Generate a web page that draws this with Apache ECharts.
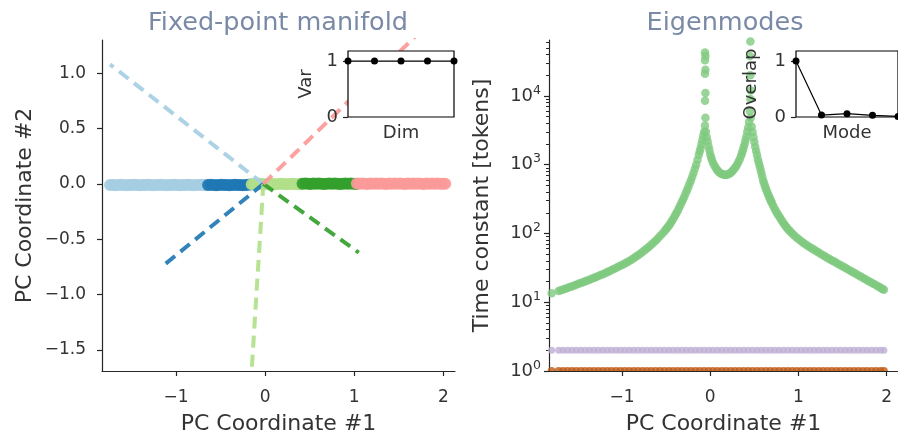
<!DOCTYPE html>
<html><head><meta charset="utf-8">
<script src="https://cdn.jsdelivr.net/npm/echarts@6/dist/echarts.min.js"></script>
<style>html,body{margin:0;padding:0;background:#fff}#c{width:898px;height:440px}</style>
</head><body><div id="c"></div>
<script>
// ---------------- DATA ----------------
const pcTicks = [-1, 0, 1, 2];
const pc2Ticks = [-1.5, -1.0, -0.5, 0.0, 0.5, 1.0];
const tauMajorTicks = [1, 10, 100, 1000, 10000];
const tauMinorTicks = [2,3,4,5,6,7,8,9,20,30,40,50,60,70,80,90,200,300,400,500,600,700,800,900,2000,3000,4000,5000,6000,7000,8000,9000,20000,30000,40000,50000,60000];
const insetTicks = [0, 1];

// Fixed-point manifold clusters (PC1, PC2)
const lightBlueX = [-1.74,-1.71,-1.68,-1.65,-1.62,-1.59,-1.56,-1.53,-1.50,-1.47,-1.44,-1.41,-1.38,-1.35,-1.32,-1.29,-1.26,-1.23,-1.20,-1.17,-1.14,-1.11,-1.08,-1.05,-1.02,-0.99,-0.96,-0.93,-0.90,-0.87,-0.84,-0.81,-0.78,-0.75,-0.72,-0.69,-0.66];
const lightBlueY = [-0.01,-0.01,-0.012,-0.01,-0.008,-0.01,-0.012,-0.01,-0.01,-0.008,-0.01,-0.012,-0.01,-0.01,-0.008,-0.01,-0.012,-0.01,-0.01,-0.008,-0.01,-0.012,-0.01,-0.01,-0.008,-0.01,-0.012,-0.01,-0.01,-0.008,-0.01,-0.012,-0.01,-0.01,-0.008,-0.01,-0.01];
const darkBlueX = [-0.64,-0.61,-0.58,-0.55,-0.52,-0.49,-0.46,-0.43,-0.40,-0.37,-0.34,-0.31,-0.28,-0.25,-0.22,-0.19,-0.16];
const darkBlueY = [-0.01,-0.008,-0.01,-0.012,-0.01,-0.008,-0.01,-0.01,-0.012,-0.01,-0.008,-0.01,-0.01,-0.012,-0.01,-0.008,-0.006];
const lightGreenX = [-0.15,-0.12,-0.09,-0.06,-0.03,0.00,0.03,0.06,0.09,0.12,0.15,0.18,0.21,0.24,0.27,0.30,0.33,0.36,0.39,0.41];
const lightGreenY = [-0.004,-0.002,0.000,0.002,0.000,-0.002,0.000,0.002,0.000,-0.002,0.000,0.002,0.000,-0.002,0.000,0.002,0.000,-0.002,0.000,0.002];
const greenX = [0.42,0.45,0.48,0.51,0.54,0.57,0.60,0.63,0.66,0.69,0.72,0.75,0.78,0.81,0.84,0.87,0.90,0.93,0.96,0.99,1.02];
const greenY = [0.002,0.004,0.002,0.000,0.004,0.002,0.004,0.002,0.000,0.002,0.004,0.002,0.004,0.002,0.000,0.002,0.004,0.002,0.004,0.002,0.000];
const salmonX = [1.03,1.06,1.09,1.12,1.15,1.18,1.21,1.24,1.27,1.30,1.33,1.36,1.39,1.42,1.45,1.48,1.51,1.54,1.57,1.60,1.63,1.66,1.69,1.72,1.75,1.78,1.81,1.84,1.87,1.90,1.93,1.96,1.99,2.02];
const salmonY = [0.004,0.002,0.004,0.002,0.000,0.004,0.002,0.004,0.002,0.004,0.002,0.000,0.004,0.002,0.004,0.002,0.004,0.002,0.000,0.004,0.002,0.004,0.002,0.004,0.002,0.000,0.004,0.002,0.004,0.002,0.004,0.002,0.002,0.002];

// Eigenvector directions drawn from the fixed point
const eigOrigin = [-0.02, 0.0];
const eigEndX = [-1.74, -1.13, -0.16, 1.05, 1.72];
const eigEndY = [1.08, -0.73, -1.80, -0.62, 1.36];

// Eigenmodes: time constants vs PC coordinate #1
const slowModeX = [-1.80,-1.72,-1.695,-1.67,-1.645,-1.62,-1.595,-1.57,-1.545,-1.52,-1.495,-1.47,-1.445,-1.42,-1.395,-1.37,-1.345,-1.32,-1.295,-1.27,-1.245,-1.22,-1.195,-1.17,-1.145,-1.12,-1.095,-1.07,-1.045,-1.02,-0.995,-0.97,-0.945,-0.92,-0.895,-0.87,-0.845,-0.82,-0.795,-0.77,-0.745,-0.72,-0.695,-0.67,-0.645,-0.62,-0.595,-0.57,-0.545,-0.52,-0.505,-0.49,-0.475,-0.46,-0.445,-0.43,-0.415,-0.40,-0.385,-0.37,-0.355,-0.34,-0.325,-0.31,-0.295,-0.28,-0.265,-0.25,-0.235,-0.22,-0.205,-0.19,-0.175,-0.16,-0.145,-0.13,-0.12,-0.11,-0.10,-0.09,-0.08,-0.07,-0.06,
  -0.06,-0.055,-0.06,-0.055,-0.06,-0.055,-0.06,-0.055,
  -0.05,-0.04,-0.03,-0.02,-0.01,0.00,0.01,0.02,0.035,0.05,0.065,0.08,0.095,0.11,0.125,0.14,0.155,0.17,0.185,0.20,0.215,0.23,0.245,0.26,0.275,0.29,0.305,0.32,0.335,0.35,0.36,0.37,0.38,0.39,0.40,0.41,0.42,0.43,0.44,
  0.455,0.45,0.455,0.46,0.455,0.45,0.46,
  0.47,0.48,0.49,0.50,0.51,0.52,0.53,0.54,0.55,0.56,0.57,0.58,0.59,0.60,0.61,0.62,0.63,0.64,0.65,0.66,0.67,0.68,0.69,0.70,0.715,0.73,0.745,0.76,0.775,0.79,0.805,0.82,0.835,0.85,0.865,0.88,0.895,0.91,0.93,0.95,0.975,1.00,1.025,1.05,1.075,1.10,1.125,1.15,1.175,1.20,1.225,1.25,1.275,1.30,1.325,1.35,1.375,1.40,1.425,1.45,1.475,1.50,1.525,1.55,1.575,1.60,1.625,1.65,1.675,1.70,1.725,1.75,1.775,1.80,1.825,1.85,1.875,1.90,1.92,1.94,1.955,1.97];
const slowModeTau = [13.5,14.55,14.9,15.3,15.7,16.1,16.6,17.0,17.5,18.0,18.5,19.0,19.5,20.1,20.7,21.3,21.9,22.6,23.3,24.0,24.8,25.6,26.4,27.4,28.3,29.3,30.3,31.5,32.7,33.9,35.2,36.6,38.2,39.8,41.6,43.6,45.7,48.1,50.7,53.6,56.8,60.3,64.1,68.4,73.1,78.5,84.7,91.6,99.3,108,114,120,127,135,145,155,168,182,197,214,234,257,282,309,343,380,423,468,528,589,668,759,870,1000,1170,1380,1550,1740,2000,2290,2630,3020,3720,
  42700,38000,33000,24000,21000,11000,8500,4800,
  3000,2510,2170,1860,1620,1410,1270,1150,1040,955,890,832,790,759,740,724,715,708,714,724,740,759,794,832,880,933,1010,1100,1210,1350,1480,1620,1800,2000,2270,2570,3000,3470,4170,
  62000,38000,20000,12000,9000,6000,4800,
  3550,2950,2500,2140,1830,1580,1380,1200,1070,955,850,759,670,589,537,490,450,417,386,359,335,313,293,275,251,229,211,195,182,170,158,148,138,130,123,116,111,106,100,94.4,88.1,83.2,78.5,74.1,70.5,67,63.8,61,58.2,55.6,53.1,50.7,48.5,46.5,44.5,42.7,40.9,39.3,37.7,36.1,34.7,33.3,31.9,30.6,29.4,28.2,27.0,25.9,24.9,23.9,22.9,22.0,21.1,20.2,19.4,18.6,17.9,17.1,16.6,16.0,15.6,15.2];
const fastModeX = [-1.80,-1.72,-1.67,-1.62,-1.57,-1.52,-1.47,-1.42,-1.37,-1.32,-1.27,-1.22,-1.17,-1.12,-1.07,-1.02,-0.97,-0.92,-0.87,-0.82,-0.77,-0.72,-0.67,-0.62,-0.57,-0.52,-0.47,-0.42,-0.37,-0.32,-0.27,-0.22,-0.17,-0.12,-0.07,-0.02,0.03,0.08,0.13,0.18,0.23,0.28,0.33,0.38,0.43,0.48,0.53,0.58,0.63,0.68,0.73,0.78,0.83,0.88,0.93,0.98,1.03,1.08,1.13,1.18,1.23,1.28,1.33,1.38,1.43,1.48,1.53,1.58,1.63,1.68,1.73,1.78,1.83,1.88,1.93,1.97];
const midModeTau = [2,2,2,2,2,2,2,2,2,2,2,2,2,2,2,2,2,2,2,2,2,2,2,2,2,2,2,2,2,2,2,2,2,2,2,2,2,2,2,2,2,2,2,2,2,2,2,2,2,2,2,2,2,2,2,2,2,2,2,2,2,2,2,2,2,2,2,2,2,2,2,2,2,2,2,2];
const fastModeTau = [1,1,1,1,1,1,1,1,1,1,1,1,1,1,1,1,1,1,1,1,1,1,1,1,1,1,1,1,1,1,1,1,1,1,1,1,1,1,1,1,1,1,1,1,1,1,1,1,1,1,1,1,1,1,1,1,1,1,1,1,1,1,1,1,1,1,1,1,1,1,1,1,1,1,1,1];

// Insets
const dimIndex = [0, 1, 2, 3, 4];
const dimVar = [1, 1, 1, 1, 1];
const modeIndex = [0, 1, 2, 3, 4];
const modeOverlap = [1, 0.035, 0.06, 0.03, 0.01];

// ---------------- STYLE ----------------
const FONT = 'DejaVu Sans';
const INK = '#262626';
const TXT = '#333';
const TITLE = '#7a8aa6';
const clusterColors = ['#a6cee3', '#1f78b4', '#b2df8a', '#33a02c', '#fb9a99'];
const eigColors = ['#a6cee3', '#1f78b4', '#b2df8a', '#33a02c', '#fb9a99'];
const HALF_DISC = 'path://M0,10 A10,10 0 0 1 20,10 Z';

const zip = (xs, ys) => xs.map((x, i) => [x, ys[i]]);
const minus = v => (v < 0 ? '\u2212' : '') + Math.abs(v);
const minus1 = v => (v < 0 ? '\u2212' : '') + Math.abs(v).toFixed(1);

function mainX(gi) {
  return {
    gridIndex: gi, type: 'value', min: -1.83, max: 2.13,
    axisLine: { onZero: false, lineStyle: { color: INK, width: 1.2 } },
    axisTick: { customValues: pcTicks, length: 5, lineStyle: { color: INK, width: 1.2 } },
    axisLabel: { customValues: pcTicks, formatter: minus, fontFamily: FONT, fontSize: 17, color: TXT, margin: 18 },
    splitLine: { show: false },
    name: 'PC Coordinate #1', nameLocation: 'middle', nameGap: 42,
    nameTextStyle: { fontFamily: FONT, fontSize: 22, color: TXT }
  };
}

const clusters = [
  [lightBlueX, lightBlueY], [darkBlueX, darkBlueY], [lightGreenX, lightGreenY], [greenX, greenY], [salmonX, salmonY]
];

const series = [];
clusters.forEach((c, i) => {
  series.push({
    type: 'scatter', xAxisIndex: 0, yAxisIndex: 0, data: zip(c[0], c[1]),
    symbolSize: 12, itemStyle: { color: clusterColors[i], opacity: 0.92 }, z: 2, clip: true, silent: true
  });
});
eigEndX.forEach((ex, i) => {
  series.push({
    type: 'line', xAxisIndex: 0, yAxisIndex: 0, data: [eigOrigin, [ex, eigEndY[i]]],
    symbol: 'none', lineStyle: { color: eigColors[i], width: 4, type: [12, 7], opacity: 0.92 },
    z: 3, clip: true, silent: true
  });
});
// Eigenmodes
series.push({ type: 'scatter', xAxisIndex: 1, yAxisIndex: 1, data: zip(fastModeX, fastModeTau), symbol: HALF_DISC, symbolSize: [8, 4], symbolOffset: [0, '-50%'], itemStyle: { color: '#bf5b17' }, clip: true, silent: true, z: 2 });
series.push({ type: 'scatter', xAxisIndex: 1, yAxisIndex: 1, data: zip(fastModeX, midModeTau), symbolSize: 7, itemStyle: { color: '#beaed4' }, clip: true, silent: true, z: 2 });
series.push({ type: 'scatter', xAxisIndex: 1, yAxisIndex: 1, data: zip(slowModeX, slowModeTau), symbolSize: 8.5, itemStyle: { color: '#7fc97f' }, clip: true, silent: true, z: 2 });
// Insets
series.push({ type: 'line', xAxisIndex: 2, yAxisIndex: 3, data: zip(dimIndex, dimVar), symbol: 'circle', symbolSize: 7, itemStyle: { color: '#000' }, lineStyle: { color: '#000', width: 1.2 }, clip: true, z: 12, silent: true });
series.push({ type: 'line', xAxisIndex: 3, yAxisIndex: 4, data: zip(modeIndex, modeOverlap), symbol: 'circle', symbolSize: 7, itemStyle: { color: '#000' }, lineStyle: { color: '#000', width: 1.2 }, clip: true, z: 12, silent: true });

function insetY(gi, name, gap) {
  return {
    gridIndex: gi, type: 'value', min: 0, max: 1.18, z: 11,
    axisLine: { show: false },
    axisTick: { customValues: insetTicks, length: 5, lineStyle: { color: INK, width: 1.2 } },
    axisLabel: { customValues: insetTicks, fontFamily: FONT, fontSize: 18, color: TXT, margin: 10 },
    splitLine: { show: false },
    name: name, nameLocation: 'middle', nameGap: gap,
    nameTextStyle: { fontFamily: FONT, fontSize: 18, color: TXT }
  };
}
function insetX(gi, name) {
  return {
    gridIndex: gi, type: 'value', min: 0, max: 4, z: 11,
    axisLine: { show: false }, axisTick: { show: false }, axisLabel: { show: false }, splitLine: { show: false },
    name: name, nameLocation: 'middle', nameGap: 7,
    nameTextStyle: { fontFamily: FONT, fontSize: 18, color: TXT }
  };
}

const option = {
  animation: false,
  backgroundColor: '#fff',
  title: [
    { text: 'Fixed-point manifold', left: 278, top: 10, textAlign: 'center', padding: 0, textStyle: { fontFamily: FONT, fontSize: 25.5, fontWeight: 'normal', color: TITLE } },
    { text: 'Eigenmodes', left: 725, top: 10, textAlign: 'center', padding: 0, textStyle: { fontFamily: FONT, fontSize: 25.5, fontWeight: 'normal', color: TITLE } }
  ],
  grid: [
    { left: 102, top: 40, width: 353, height: 335 },
    { left: 549, top: 40, width: 354, height: 335 },
    { left: 348, top: 51, width: 106, height: 66, show: true, backgroundColor: '#fff', borderColor: '#000', borderWidth: 1.2, z: 10 },
    { left: 796, top: 51, width: 106, height: 66, show: true, backgroundColor: '#fff', borderColor: '#000', borderWidth: 1.2, z: 10 }
  ],
  xAxis: [mainX(0), mainX(1), insetX(2, 'Dim'), insetX(3, 'Mode')],
  yAxis: [
    {
      gridIndex: 0, type: 'value', min: -1.69, max: 1.30,
      axisLine: { onZero: false, lineStyle: { color: INK, width: 1.2 } },
      axisTick: { customValues: pc2Ticks, length: 5, lineStyle: { color: INK, width: 1.2 } },
      axisLabel: { customValues: pc2Ticks, formatter: minus1, fontFamily: FONT, fontSize: 17, color: TXT, margin: 16 },
      splitLine: { show: false },
      name: 'PC Coordinate #2', nameLocation: 'middle', nameGap: 66,
      nameTextStyle: { fontFamily: FONT, fontSize: 22, color: TXT }
    },
    {
      gridIndex: 1, type: 'log', logBase: 10, min: 1, max: 65000,
      axisLine: { onZero: false, lineStyle: { color: INK, width: 1.2 } },
      axisTick: { customValues: tauMajorTicks, length: 5, lineStyle: { color: INK, width: 1.2 } },
      axisLabel: {
        customValues: tauMajorTicks, margin: 8, color: TXT,
        formatter: v => '{b|10}{s|' + Math.round(Math.log10(v)) + '}',
        rich: { b: { fontFamily: FONT, fontSize: 18, color: TXT, lineHeight: 24 }, s: { fontFamily: FONT, fontSize: 12.5, color: TXT, verticalAlign: 'top', lineHeight: 13 } }
      },
      splitLine: { show: false },
      name: 'Time constant [tokens]', nameLocation: 'middle', nameGap: 56,
      nameTextStyle: { fontFamily: FONT, fontSize: 22, color: TXT }
    },
    {
      gridIndex: 1, type: 'log', logBase: 10, min: 1, max: 65000, position: 'left',
      axisLine: { show: false, onZero: false },
      axisTick: { customValues: tauMinorTicks, length: 3, lineStyle: { color: INK, width: 1 } },
      axisLabel: { show: false },
      splitLine: { show: false }
    },
    insetY(2, 'Var', 33),
    insetY(3, 'Overlap', 36)
  ],
  series: series
};

const chart = echarts.init(document.getElementById('c'), null, { renderer: 'canvas' });
chart.setOption(option);
</script></body></html>
